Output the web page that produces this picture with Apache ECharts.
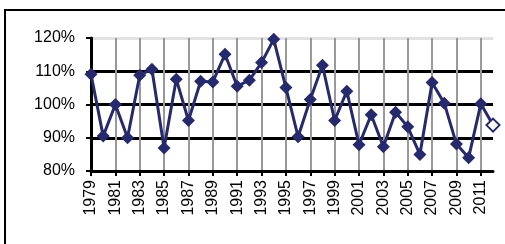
<!DOCTYPE html>
<html>
<head>
<meta charset="utf-8">
<script src="https://cdn.jsdelivr.net/npm/echarts@6/dist/echarts.min.js"></script>
<style>
html, body { margin: 0; padding: 0; background: #fff; }
#chart { width: 505px; height: 244px; }
</style>
</head>
<body>
<div id="chart"></div>
<script>
// years on the x axis
const years = []
for (let y = 1979; y <= 2012; y++) years.push(String(y))

// ratio to the previous year, in percent
const ratio = [
	109.1, 90.5, 100.0, 90.0, 108.8, 110.6, 86.9, 107.6, 95.2, 107.0,
	106.8, 115.1, 105.5, 107.3, 112.6, 119.6, 105.1, 90.3, 101.5, 111.8,
	95.2, 104.0, 87.9, 96.9, 87.3, 97.7, 93.3, 85.0, 106.6, 100.4,
	88.1, 84.0, 100.2, 93.8
]

const yMin = 80
const yMax = 120
const yStep = 10

const navy = "#262A6C"
const font = "Liberation Sans, Arial, sans-serif"

let chart = echarts.init(document.getElementById("chart"))

// the last point is an estimate, drawn hollow
const seriesData = ratio.map((v, i) => {
	if (i === ratio.length - 1) {
		return { value: v, itemStyle: { color: "#fff", borderColor: navy, borderWidth: 2 } }
	}
	return v
})

let option = {
	animation: false,
	graphic: [
		{
			type: "rect",
			shape: { x: 5, y: 10, width: 520, height: 260 },
			style: { fill: null, stroke: "#000", lineWidth: 2 },
			z: -1
		}
	],
	grid: {
		left: 91,
		right: 12,
		top: 38,
		bottom: 73
	},
	xAxis: {
		type: "category",
		data: years,
		boundaryGap: false,
		axisLine: { lineStyle: { color: "#000", width: 3 } },
		axisTick: { show: true, interval: 1, length: 5, lineStyle: { color: "#000", width: 2 } },
		axisLabel: {
			interval: 1,
			rotate: 90,
			margin: 9,
			color: "#000",
			fontSize: 16,
			fontFamily: font
		},
		splitLine: { show: true, interval: 1, lineStyle: { color: "#999", width: 2 } }
	},
	yAxis: {
		type: "value",
		min: yMin,
		max: yMax,
		interval: yStep,
		axisLine: { show: true, lineStyle: { color: "#000", width: 3 } },
		axisTick: { show: true, length: 5, lineStyle: { color: "#000", width: 2 } },
		axisLabel: {
			formatter: "{value}%",
			margin: 16,
			color: "#000",
			fontSize: 16,
			fontFamily: font
		},
		splitLine: {
			show: true,
			lineStyle: { color: ["#000", "#000", "#000", "#000", "#e2e2e2"], width: 3 }
		}
	},
	series: [
		{
			type: "line",
			data: seriesData,
			symbol: "diamond",
			symbolSize: 13,
			showAllSymbol: true,
			lineStyle: { color: navy, width: 3 },
			itemStyle: { color: navy }
		}
	]
}
chart.setOption(option)
</script>
</body>
</html>
